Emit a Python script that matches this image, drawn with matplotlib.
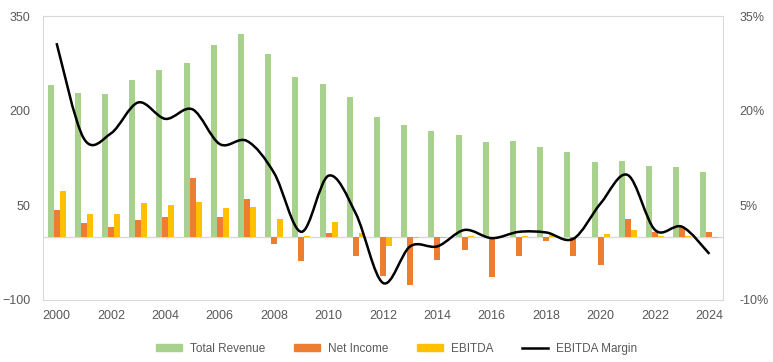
import matplotlib.pyplot as plt
import numpy as np
from matplotlib.path import Path
from matplotlib.patches import PathPatch, Patch
from matplotlib.lines import Line2D

years = list(range(2000, 2025))
revenue = [241, 228, 227, 249, 265, 276, 304, 322, 290, 254, 242, 222, 190, 177, 168, 162,
           151, 152, 143, 135, 119, 120, 113, 111, 103]
net_income = [42, 22, 16, 26, 32, 93, 32, 60, -11, -39, 6, -31, -62, -76, -37, -20,
              -63, -30, -7, -31, -44, 29, 7, 16, 8]
ebitda = [73, 37, 37, 53, 50, 56, 45, 48, 28, 1.5, 24, 6, -14, -2, -2, 1.5,
          0, 2, 2.5, 0, 5, 11, 2, 2, -2]
margin = [30.7, 15.6, 16.4, 21.3, 18.7, 20.2, 14.7, 15.2, 10.1, 0.8, 9.7, 3.7, -7.3, -1.5, -1.5, 1.1,
          -0.2, 0.8, 0.7, -0.3, 5.3, 9.8, 1.1, 1.6, -2.7]

GREEN = '#A9D18E'
ORANGE = '#ED7D31'
YELLOW = '#FFC000'
GRID = '#D9D9D9'
TXT = '#595959'

plt.rcParams['font.family'] = ['Liberation Sans', 'DejaVu Sans']

def smooth_path(xs, ys):
    # Excel style smoothed line: bezier segments through every point
    pts = np.column_stack([xs, ys]).astype(float)
    n = len(pts)
    verts = [pts[0]]
    codes = [Path.MOVETO]
    for i in range(n - 1):
        p0 = pts[max(i - 1, 0)]
        p1 = pts[i]
        p2 = pts[i + 1]
        p3 = pts[min(i + 2, n - 1)]
        c1 = p1 + (p2 - p0) / 6
        c2 = p2 - (p3 - p1) / 6
        verts += [c1, c2, p2]
        codes += [Path.CURVE4] * 3
    return Path(verts, codes)

fig = plt.figure(figsize=(7.73, 3.62), dpi=100)
ax = fig.add_axes([0.0556, 0.1713, 0.8797, 0.7845])
x = np.arange(len(years))
w = 0.22
ax.bar(x - w, revenue, w, color=GREEN, zorder=2)
ax.bar(x, net_income, w, color=ORANGE, zorder=2)
ax.bar(x + w, ebitda, w, color=YELLOW, zorder=2)
ax.axhline(0, color=GRID, lw=1, zorder=1)

ax.set_xlim(-0.5, len(years) - 0.5)
ax.set_ylim(-100, 350)
ax.set_yticks([-100, 50, 200, 350])
ax.set_xticks(x[::2])
ax.set_xticklabels([str(y) for y in years[::2]])
for s in ax.spines.values():
    s.set_color(GRID)
ax.tick_params(length=0, colors=TXT, labelsize=9)
ax.tick_params(axis='x', pad=7)
ax.tick_params(axis='y', pad=9)

ax2 = ax.twinx()
ax2.set_ylim(-10, 35)
ax2.set_yticks([-10, 5, 20, 35])
ax2.set_yticklabels([f'{v}%' for v in [-10, 5, 20, 35]])
for s in ax2.spines.values():
    s.set_visible(False)
ax2.tick_params(length=0, colors=TXT, labelsize=9, pad=12)
ax2.add_patch(PathPatch(smooth_path(x, margin), fill=False, edgecolor='black', lw=1.8, zorder=3))

handles = [Patch(color=GREEN, label='Total Revenue'),
           Patch(color=ORANGE, label='Net Income'),
           Patch(color=YELLOW, label='EBITDA'),
           Line2D([], [], color='black', lw=1.8, label='EBITDA Margin')]
leg = fig.legend(handles=handles, loc='center', bbox_to_anchor=(0.513, 0.036), ncol=4,
                 frameon=False, fontsize=8.5, handlelength=2.2, handleheight=0.55,
                 columnspacing=2.4, handletextpad=0.7)
for t in leg.get_texts():
    t.set_color(TXT)

fig.savefig('out.png', dpi=100)
